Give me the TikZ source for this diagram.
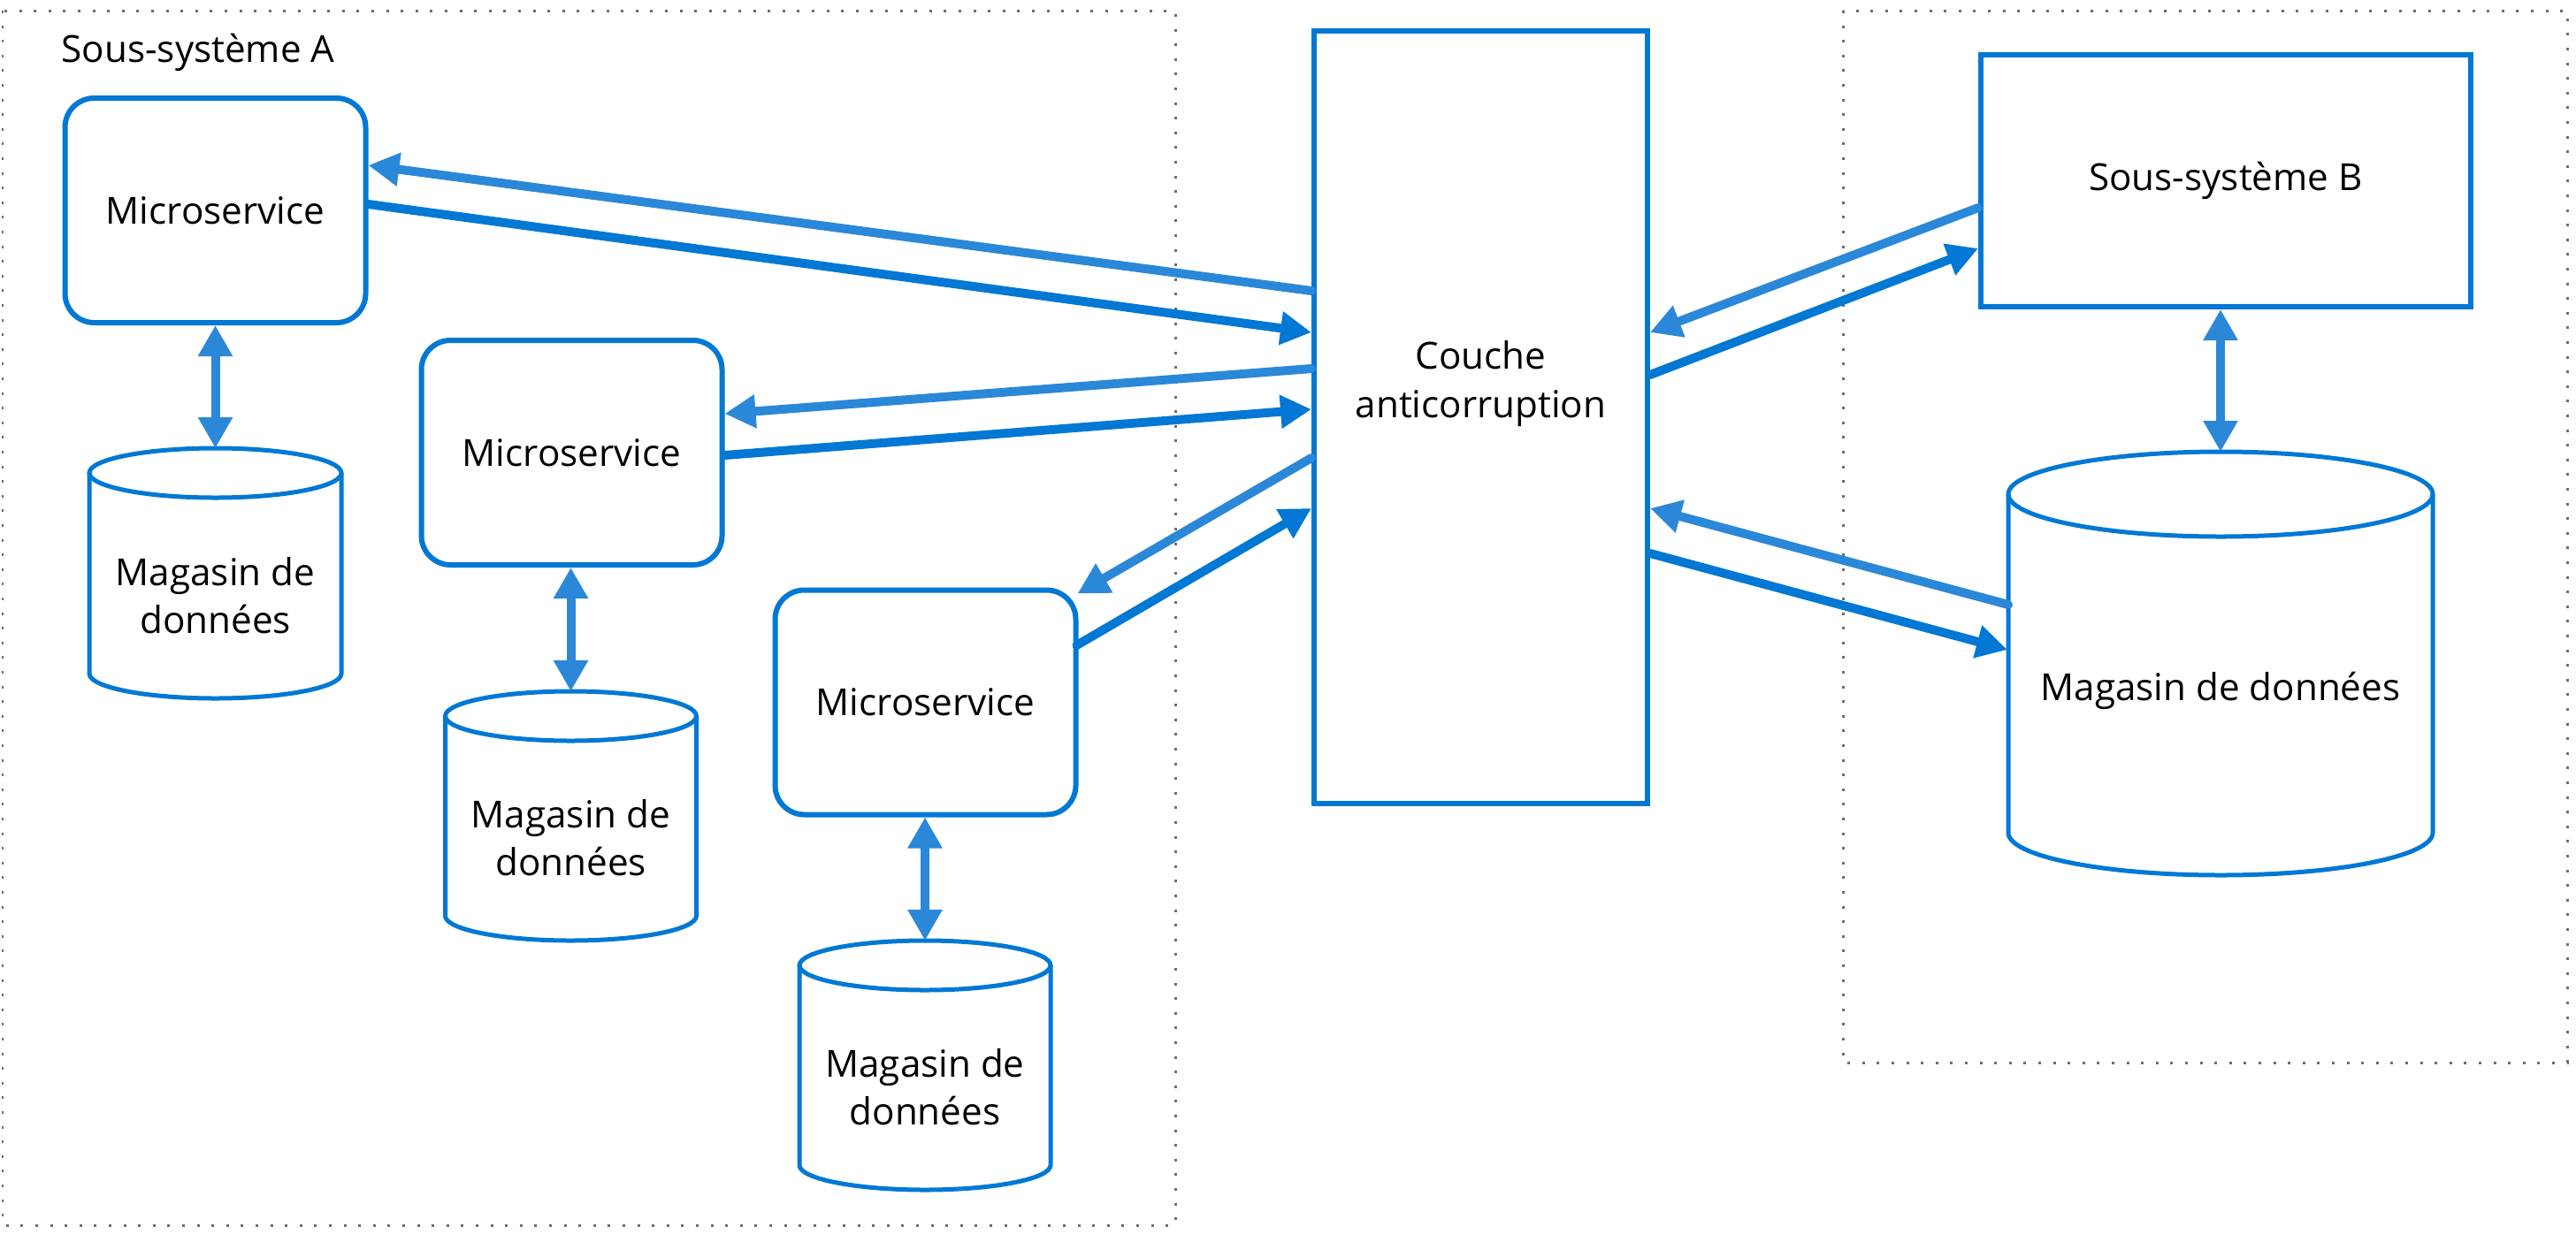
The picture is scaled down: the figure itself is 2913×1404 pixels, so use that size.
\documentclass[tikz,border=0pt]{standalone}
\usepackage{fontspec}
\setmainfont{Open Sans}
\usetikzlibrary{arrows.meta}
\definecolor{azdark}{HTML}{0078D4}
\definecolor{azlight}{HTML}{2B88D8}
\definecolor{dotgray}{HTML}{6E6E6E}
\tikzset{
  lbl/.style={font=\fontsize{12pt}{15.4pt}\selectfont, align=center, inner sep=0pt},
  msbox/.style={draw=azdark, line width=0.6mm, rounded corners=3.3mm, minimum width=34mm, minimum height=25.4mm, inner sep=0pt, font=\fontsize{12pt}{15.4pt}\selectfont},
  sqbox/.style={draw=azdark, line width=0.6mm, inner sep=0pt, font=\fontsize{12pt}{15.4pt}\selectfont, align=center},
  cylline/.style={draw=azdark, line width=0.5mm},
  region/.style={draw=dotgray, line width=0.3mm, dash pattern=on 0.3mm off 1.36mm},
  toms/.style={draw=azlight, line width=1.0mm, line cap=round, -{Triangle[length=3.5mm,width=3.6mm]}},
  tocl/.style={draw=azdark, line width=1.0mm, line cap=round, -{Triangle[length=3.5mm,width=3.6mm]}},
  dbl/.style={draw=azlight, line width=1.0mm, {Triangle[length=3.5mm,width=3.7mm]}-{Triangle[length=3.5mm,width=3.7mm]}},
}
% cylinder: name, cx, top, bottom, rx, ry, text, text offset
\newcommand{\dbcyl}[8]{%
  \draw[cylline] (#2-#5,#3+#6) -- (#2-#5,#4-#6)
     arc[start angle=180, end angle=0, x radius=#5, y radius=#6] -- (#2+#5,#3+#6);
  \draw[cylline] (#2,#3+#6) ellipse[x radius=#5, y radius=#6];
  \node[lbl] (#1) at (#2,{(#3+#4)/2+#8}) {#7};
  \coordinate (#1top) at (#2,#3);
}
\begin{document}
\begin{tikzpicture}[x=0.1mm,y=-0.1mm]
\useasboundingbox[fill=white] (0,0) rectangle (2913,1404);

% regions
\draw[region] (3,12) rectangle (1329,1386);
\draw[region] (2084,12) rectangle (2903,1202);
\node[lbl, anchor=base west] (sysA) at (69,70) {Sous-système A};

% microservices
\node[msbox] (ms1) at (243.5,238) {Microservice};
\node[msbox] (ms2) at (646.5,512) {Microservice};
\node[msbox] (ms3) at (1046.5,794.5) {Microservice};

% data stores
\dbcyl{db1}{243.5}{507}{790}{142.5}{28}{Magasin de\\données}{25}
\dbcyl{db2}{645.5}{782}{1064}{142}{28}{Magasin de\\données}{25}
\dbcyl{db3}{1046}{1064}{1346}{142}{28}{Magasin de\\données}{25}
\dbcyl{dbB}{2511}{511}{990}{240}{48}{Magasin de données}{31}

% anticorruption layer
\node[sqbox, minimum width=37.7mm, minimum height=87.4mm] (cl) at (1674.5,472) {};
\node[lbl] (cltext) at (1674.5,434) {Couche\\anticorruption};

% subsystem B
\node[sqbox, minimum width=55.4mm, minimum height=28.5mm] (sb) at (2517,204.5) {Sous-système B};

% vertical links
\draw[dbl] (ms1.south) -- (db1top);
\draw[dbl] (ms2.south -| db2top) -- (db2top);
\draw[dbl] (ms3.south -| db3top) -- (db3top);
\draw[dbl] (sb.south -| dbBtop) -- (dbBtop);

% left side arrows
\draw[toms] (cl.west |- 0,329) -- (ms1.east |- 0,187);
\draw[tocl] (ms1.east |- 0,231) -- (cl.west |- 0,376);
\draw[toms] (cl.west |- 0,417) -- (ms2.east |- 0,468);
\draw[tocl] (ms2.east |- 0,515) -- (cl.west |- 0,463);
\coordinate (ms3in) at ([xshift=-0.1mm,yshift=-0.7mm]ms3.north east);
\draw[toms] (cl.west |- 0,518) -- (ms3in);
\draw[tocl] ([xshift=-0.2mm]ms3.east |- 0,730) -- (cl.west |- 0,575);

% right side arrows
\draw[toms] (sb.west |- 0,235) -- (cl.east |- 0,376);
\draw[tocl] (cl.east |- 0,424) -- (sb.west |- 0,281);
\coordinate (dbBl1) at (2271,684);
\coordinate (dbBl2) at (2270,735);
\draw[toms] (dbBl1) -- (cl.east |- 0,575);
\draw[tocl] (cl.east |- 0,626) -- (dbBl2);
\end{tikzpicture}
\end{document}
